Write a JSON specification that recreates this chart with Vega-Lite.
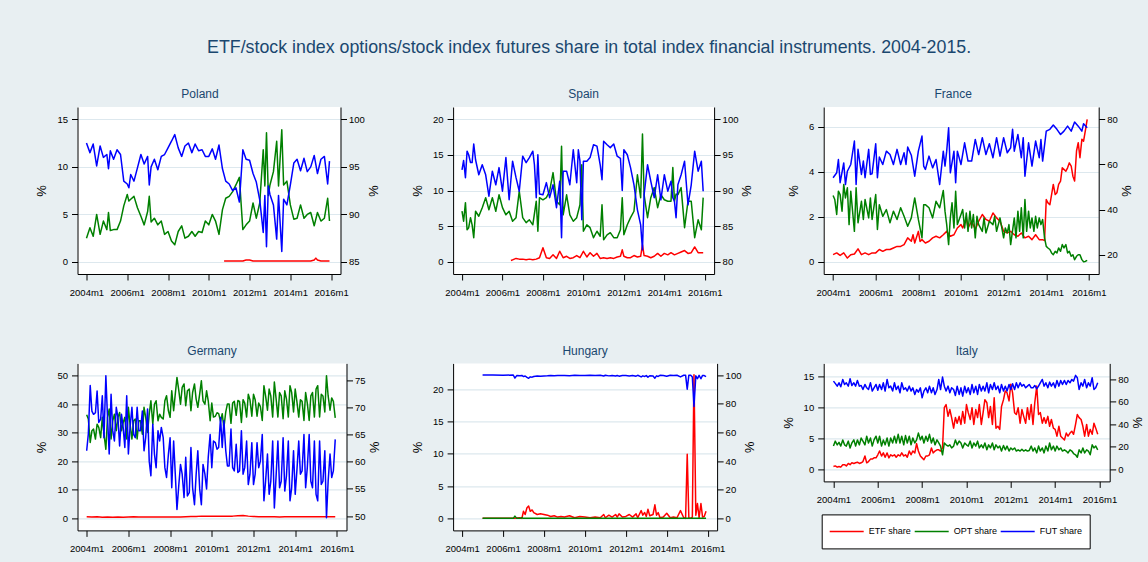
{
"$schema":"https://vega.github.io/schema/vega-lite/v6.json",
"background":"#e8eff2",
"padding":{"left":35.5,"top":38,"right":12,"bottom":10},
"bounds":"flush",
"columns":3,
"spacing":{"row":89.4,"column":106.6},
"resolve":{"scale":{"color":"independent"}},
"title":{"text":"ETF/stock index options/stock index futures share in total index financial instruments. 2004-2015.","font":"Liberation Sans","fontSize":17.8,"fontWeight":"normal","color":"#1a476f","offset":32,"anchor":"middle"},
"config":{
 "view":{"stroke":null,"fill":"white"},
 "mark":{"invalid":"filter"},
 "title":{"font":"Liberation Sans","fontSize":12,"fontWeight":"normal","color":"#1a476f","offset":5.7},
 "axis":{"labelFont":"Liberation Sans","labelFontSize":9.5,"labelColor":"#000","domainColor":"#000","tickColor":"#000","tickSize":6,"labelPadding":4,"titleFont":"Liberation Sans","titleFontSize":13,"titleFontWeight":"normal","titleColor":"#000","gridColor":"#dde8ee","gridWidth":1.2,"labelFlush":false,"labelOverlap":false,"titlePadding":8},
 "axisX":{"labelPadding":7},
 "axisRight":{"labelPadding":2,"titlePadding":1},
 "line":{"strokeWidth":1.5,"strokeJoin":"round","invalid":"filter"}
},
"datasets":{
"pl":[
{"t":2004,"o":2.5,"f":97.5},{"t":2004.17,"o":3.6,"f":96.5},{"t":2004.33,"o":2.7,"f":97.4},{"t":2004.5,"o":5.0,"f":95.1},{"t":2004.67,"o":2.9,"f":97.2},{"t":2004.83,"o":4.3,"f":96.0},
{"t":2005,"o":3.4,"f":96.3},{"t":2005.08,"o":5.2,"f":94.8},{"t":2005.17,"o":3.3,"f":96.7},{"t":2005.33,"o":3.4,"f":95.8},{"t":2005.5,"o":3.4,"f":96.8},{"t":2005.67,"o":4.3,"f":96.3},{"t":2005.83,"o":5.9,"f":93.5},
{"t":2006,"o":7.1,"f":93.2},{"t":2006.08,"o":6.4,"f":92.8},{"t":2006.17,"o":6.6,"f":94.2},{"t":2006.33,"o":6.9,"f":93.5},{"t":2006.5,"o":5.7,"f":94.9},{"t":2006.67,"o":4.8,"f":96.3},{"t":2006.83,"o":3.9,"f":95.3},
{"t":2007,"o":5.3,"f":96.1},{"t":2007.08,"o":6.9,"f":93.1},{"t":2007.17,"o":4.2,"f":95.0},{"t":2007.33,"o":4.6,"f":95.8},{"t":2007.5,"o":3.9,"f":94.7},{"t":2007.67,"o":4.3,"f":96.1},{"t":2007.83,"o":2.9,"f":96.3},
{"t":2008,"o":3.2,"f":97.0},{"t":2008.17,"o":2.2,"f":97.7},{"t":2008.33,"o":1.8,"f":98.4},{"t":2008.5,"o":3.2,"f":97.0},{"t":2008.67,"o":3.8,"f":96.1},{"t":2008.83,"o":2.5,"f":97.2},
{"t":2009,"o":2.7,"f":97.5},{"t":2009.17,"o":3.2,"f":96.5},{"t":2009.33,"o":2.7,"f":97.4},{"t":2009.5,"o":3.2,"f":96.7},{"t":2009.67,"o":3.1,"f":96.8},{"t":2009.83,"o":4.3,"f":96.1},
{"t":2010,"o":3.9,"f":96.1},{"t":2010.17,"o":5.0,"f":96.9},{"t":2010.33,"o":4.3,"f":95.8},{"t":2010.5,"o":2.9,"f":97.3},{"t":2010.67,"o":5.5,"f":94.8},{"t":2010.75,"e":0.1},{"t":2010.83,"o":6.7,"f":93.5,"e":0.1},
{"t":2011,"o":6.9,"f":93.2,"e":0.1},{"t":2011.17,"o":7.4,"f":92.5,"e":0.1},{"t":2011.33,"o":8.1,"f":92.8,"e":0.1},{"t":2011.5,"o":8.9,"f":91.3,"e":0.1},{"t":2011.67,"o":3.4,"f":96.8,"e":0.1},{"t":2011.83,"o":3.9,"f":95.8,"e":0.2},
{"t":2012,"o":4.3,"f":95.7,"e":0.2},{"t":2012.17,"o":6.2,"f":94.3,"e":0.1},{"t":2012.33,"o":4.6,"f":93.4,"e":0.1},{"t":2012.5,"o":6.2,"f":91.5,"e":0.1},{"t":2012.67,"o":11.8,"f":88.1,"e":0.1},{"t":2012.75,"o":8.0,"f":92.0},{"t":2012.83,"o":13.6,"f":86.6,"e":0.1},{"t":2012.92,"o":7.0,"f":93.0},
{"t":2013,"o":8.1,"f":92.1,"e":0.1},{"t":2013.17,"o":9.5,"f":91.0,"e":0.1},{"t":2013.33,"o":12.7,"f":87.4,"e":0.1},{"t":2013.42,"o":8.0,"f":92.0},{"t":2013.58,"o":13.9,"f":86.1,"e":0.1},{"t":2013.67,"o":8.1,"f":91.6},{"t":2013.83,"o":8.5,"f":91.0,"e":0.1},
{"t":2014,"o":6.0,"f":93.1,"e":0.1},{"t":2014.17,"o":4.5,"f":95.4,"e":0.1},{"t":2014.33,"o":4.6,"f":95.8,"e":0.1},{"t":2014.5,"o":6.0,"f":94.6,"e":0.1},{"t":2014.67,"o":4.6,"f":95.9,"e":0.1},{"t":2014.83,"o":5.0,"f":94.5,"e":0.1},
{"t":2015,"o":5.2,"f":95.0,"e":0.1},{"t":2015.17,"o":3.8,"f":96.2,"e":0.2},{"t":2015.25,"e":0.4},{"t":2015.33,"o":5.2,"f":94.3,"e":0.2},{"t":2015.5,"o":4.3,"f":95.8,"e":0.1},{"t":2015.67,"o":4.6,"f":96.1,"e":0.1},{"t":2015.83,"o":6.7,"f":93.2,"e":0.1},{"t":2015.92,"o":4.3,"f":95.6,"e":0.1}
],
"es":[
{"t":2004,"o":7.1,"f":92.9},{"t":2004.08,"o":5.7,"f":94.2},{"t":2004.17,"o":8.3,"f":91.8},{"t":2004.25,"o":4.5,"f":95.5},{"t":2004.33,"o":4.8,"f":95.0},{"t":2004.42,"o":6.2,"f":93.9},{"t":2004.5,"o":5.2,"f":93.9},{"t":2004.58,"o":3.4,"f":96.5},{"t":2004.67,"o":7.1,"f":94.3},{"t":2004.83,"o":6.4,"f":92.2},
{"t":2005,"o":7.6,"f":93.6},{"t":2005.17,"o":9.0,"f":92.2},{"t":2005.33,"o":7.3,"f":89.2},{"t":2005.5,"o":9.0,"f":92.7},{"t":2005.67,"o":7.1,"f":90.8},{"t":2005.83,"o":9.4,"f":93.2},
{"t":2006,"o":7.6,"f":89.9},{"t":2006.17,"o":6.6,"f":94.6},{"t":2006.33,"o":7.1,"f":88.7},{"t":2006.42,"e":0.2},{"t":2006.5,"o":5.7,"f":94.1,"e":0.3},{"t":2006.67,"o":6.2,"f":91.8,"e":0.5},{"t":2006.83,"o":9.9,"f":89.9,"e":0.4},
{"t":2007,"o":6.2,"f":94.8,"e":0.4},{"t":2007.17,"o":5.5,"f":93.9,"e":0.3},{"t":2007.33,"o":5.9,"f":94.6,"e":0.4},{"t":2007.5,"o":5.2,"f":95.5,"e":0.3},{"t":2007.58,"f":93.6},{"t":2007.67,"o":8.5,"f":89.0,"e":0.4},{"t":2007.75,"o":4.3,"f":95.0},{"t":2007.83,"o":9.0,"f":89.5,"e":0.6},
{"t":2008,"o":8.7,"f":89.4,"e":2.0},{"t":2008.17,"o":9.0,"f":91.1,"e":0.6},{"t":2008.33,"o":9.9,"f":89.0,"e":0.5},{"t":2008.5,"o":12.5,"f":90.8,"e":1.0},{"t":2008.67,"o":8.5,"f":87.6,"e":0.5},{"t":2008.83,"o":8.0,"f":91.3,"e":1.5},{"t":2008.92,"o":16.2,"f":83.4},
{"t":2009,"o":6.6,"f":92.7,"e":0.6},{"t":2009.17,"o":9.4,"f":92.7,"e":0.8},{"t":2009.33,"o":6.6,"f":90.8,"e":0.5},{"t":2009.5,"o":5.7,"f":95.7,"e":0.6},{"t":2009.67,"o":6.2,"f":91.1,"e":0.9},{"t":2009.75,"f":95.7},{"t":2009.83,"o":8.0,"f":94.1,"e":0.6},{"t":2009.92,"o":13.6,"f":85.9},
{"t":2010,"o":4.3,"f":94.1,"e":1.5},{"t":2010.17,"o":5.2,"f":94.1,"e":0.7},{"t":2010.33,"o":4.8,"f":94.6,"e":1.3},{"t":2010.5,"o":3.4,"f":96.4,"e":0.8},{"t":2010.67,"o":4.3,"f":96.2,"e":1.2},{"t":2010.83,"o":3.6,"f":93.6,"e":0.5},{"t":2010.92,"o":8.0,"f":91.5},
{"t":2011,"o":3.1,"f":96.9,"e":0.6},{"t":2011.17,"o":3.8,"f":96.4,"e":0.5},{"t":2011.33,"o":4.1,"f":96.0,"e":0.6},{"t":2011.5,"o":3.4,"f":96.5,"e":0.5},{"t":2011.67,"o":3.4,"f":94.8,"e":0.7},{"t":2011.83,"o":4.5,"f":94.5,"e":0.8},{"t":2011.92,"o":9.0,"f":90.0,"e":1.7},
{"t":2012,"o":3.8,"f":95.7,"e":0.8},{"t":2012.17,"o":5.2,"f":95.0,"e":0.6},{"t":2012.33,"o":6.2,"f":93.2,"e":0.6},{"t":2012.5,"o":7.1,"f":90.8,"e":0.9},{"t":2012.67,"o":12.2,"f":87.3,"e":0.7},{"t":2012.83,"o":9.0,"f":85.2,"e":0.8},{"t":2012.92,"o":17.9,"f":81.7,"e":2.4},
{"t":2013,"o":9.4,"f":89.4,"e":0.9},{"t":2013.17,"o":6.2,"f":93.6,"e":0.8},{"t":2013.33,"o":9.0,"f":91.3,"e":0.6},{"t":2013.5,"o":10.4,"f":89.0,"e":0.8},{"t":2013.67,"o":7.6,"f":92.2,"e":1.2},{"t":2013.83,"o":9.4,"f":88.7,"e":0.8},
{"t":2014,"o":8.7,"f":92.2,"e":1.2},{"t":2014.17,"o":8.5,"f":89.9,"e":1.0},{"t":2014.33,"o":8.5,"f":91.3,"e":1.3},{"t":2014.42,"o":13.2,"f":89.0},{"t":2014.5,"o":8.5,"f":88.5,"e":1.0},{"t":2014.58,"o":9.5,"f":86.2},{"t":2014.67,"o":9.4,"f":90.8,"e":1.2},{"t":2014.83,"o":10.4,"f":92.2,"e":1.4},
{"t":2015,"o":4.8,"f":94.1,"e":1.6},{"t":2015.17,"o":8.5,"f":88.0,"e":1.2},{"t":2015.33,"o":8.5,"f":90.8,"e":1.3},{"t":2015.5,"o":3.4,"f":95.5,"e":2.1},{"t":2015.67,"o":5.9,"f":92.7,"e":1.3},{"t":2015.83,"o":4.5,"f":94.1,"e":1.3},{"t":2015.92,"o":9.0,"f":89.9,"e":1.3}
],
"fr":[
{"t":2004,"e":0.31,"o":2.95,"f":54.1},{"t":2004.08,"o":2.77},{"t":2004.17,"e":0.39,"o":2.1,"f":56.3},{"t":2004.25,"o":3.14,"f":62.2},{"t":2004.33,"e":0.28,"o":2.99,"f":51.9},{"t":2004.42,"o":2.25},{"t":2004.5,"e":0.39,"o":3.44,"f":60.7},{"t":2004.58,"o":2.84,"f":51.1},{"t":2004.67,"e":0.16,"o":3.29,"f":57.0},{"t":2004.75,"o":1.65},{"t":2004.83,"e":0.31,"o":3.14,"f":60.0},
{"t":2005,"e":0.34,"o":1.35,"f":70.4},{"t":2005.08,"o":3.29,"f":51.1},{"t":2005.17,"e":0.57,"o":1.73,"f":66.7},{"t":2005.33,"e":0.31,"o":2.69,"f":55.6},{"t":2005.42,"o":1.88,"f":61.5},{"t":2005.5,"e":0.39,"o":2.77,"f":54.1},{"t":2005.67,"e":0.31,"o":1.95,"f":66.7},{"t":2005.75,"o":2.84,"f":55.6},{"t":2005.83,"e":0.39,"o":1.88,"f":55.9},
{"t":2006,"e":0.39,"o":2.99,"f":69.2},{"t":2006.08,"o":1.43,"f":54.1},{"t":2006.17,"e":0.54,"o":2.54,"f":63.3},{"t":2006.33,"e":0.46,"o":2.02,"f":60.0},{"t":2006.5,"e":0.54,"o":2.32,"f":65.9},{"t":2006.67,"e":0.54,"o":1.73,"f":64.4},{"t":2006.83,"e":0.61,"o":2.25,"f":60.0},
{"t":2007,"e":0.68,"o":1.88,"f":66.7},{"t":2007.17,"e":0.68,"o":2.4,"f":60.0},{"t":2007.33,"e":0.76,"o":2.02,"f":65.2},{"t":2007.42,"f":60.0},{"t":2007.5,"e":1.06,"o":1.58,"f":67.7},{"t":2007.67,"e":0.91,"o":1.95,"f":64.1},{"t":2007.75,"e":1.2},{"t":2007.83,"e":0.83,"o":2.84,"f":54.8},
{"t":2008,"e":1.35,"o":1.88,"f":65.9},{"t":2008.08,"e":0.9},{"t":2008.17,"e":0.98,"o":1.06,"f":72.6},{"t":2008.25,"o":2.54,"f":59.3},{"t":2008.33,"e":0.83,"o":2.54,"f":57.8},{"t":2008.5,"e":0.91,"o":2.4,"f":63.7},{"t":2008.67,"e":1.06,"o":1.95,"f":58.5},{"t":2008.83,"e":1.13,"o":2.69,"f":62.2},
{"t":2009,"e":1.06,"o":2.4,"f":51.1},{"t":2009.17,"e":1.2,"o":3.17,"f":65.9},{"t":2009.25,"o":2.25,"f":59.3},{"t":2009.33,"e":1.35,"o":1.65,"f":65.9},{"t":2009.42,"o":0.76,"f":76.3},{"t":2009.5,"e":1.13,"o":1.95,"f":56.3},{"t":2009.58,"o":2.62},{"t":2009.67,"e":1.2,"o":1.5,"f":65.9},{"t":2009.75,"o":3.14,"f":51.9},{"t":2009.83,"e":1.5,"o":1.65,"f":65.9},
{"t":2010,"e":1.65,"o":2.1,"f":60.0},{"t":2010.08,"e":1.5,"o":2.32},{"t":2010.17,"e":1.73,"o":1.5,"f":69.6},{"t":2010.25,"e":1.95,"o":2.17},{"t":2010.33,"e":1.5,"o":1.35,"f":61.5},{"t":2010.42,"o":2.25},{"t":2010.5,"e":1.8,"o":1.5,"f":61.5},{"t":2010.58,"o":2.1},{"t":2010.67,"e":1.43,"o":1.06,"f":71.1},{"t":2010.75,"o":2.02},{"t":2010.83,"e":1.8,"o":1.65,"f":64.4},
{"t":2011,"e":2.1,"o":1.35,"f":71.9},{"t":2011.08,"o":1.95},{"t":2011.17,"e":1.88,"o":1.28,"f":64.4},{"t":2011.33,"e":1.8,"o":1.8,"f":69.2},{"t":2011.5,"e":2.17,"o":1.65,"f":63.0},{"t":2011.58,"o":2.02},{"t":2011.67,"e":1.95,"o":1.35,"f":71.9},{"t":2011.83,"e":1.8,"o":1.95,"f":63.7},
{"t":2012,"e":1.35,"o":1.06,"f":71.9},{"t":2012.08,"o":1.5},{"t":2012.17,"e":1.28,"o":1.28,"f":65.2},{"t":2012.25,"o":1.65},{"t":2012.33,"e":1.35,"o":0.76,"f":67.4},{"t":2012.42,"f":75.6},{"t":2012.5,"e":1.2,"o":1.95,"f":65.9},{"t":2012.58,"o":1.06},{"t":2012.67,"e":1.13,"o":2.25,"f":73.3},{"t":2012.75,"o":1.35},{"t":2012.83,"e":1.28,"o":2.4,"f":63.0},{"t":2012.92,"o":1.06,"f":71.9},
{"t":2013,"e":1.06,"o":2.77,"f":54.8},{"t":2013.08,"o":1.35},{"t":2013.17,"e":1.13,"o":2.25,"f":69.6},{"t":2013.25,"o":1.5},{"t":2013.33,"e":0.98,"o":1.95,"f":59.3},{"t":2013.42,"o":1.35},{"t":2013.5,"e":1.2,"o":2.02,"f":70.4},{"t":2013.58,"o":1.5},{"t":2013.67,"e":0.98,"o":1.95,"f":63.0},{"t":2013.75,"o":1.65,"f":71.1},{"t":2013.83,"e":0.98,"o":1.88,"f":61.5},{"t":2013.92,"e":0.94,"o":1.06},
{"t":2014,"e":2.77,"o":0.68,"f":74.8},{"t":2014.08,"e":2.62,"o":0.61},{"t":2014.17,"e":2.54,"o":0.54,"f":75.6},{"t":2014.25,"e":2.99,"o":0.39},{"t":2014.33,"e":3.44,"o":0.31,"f":77.5},{"t":2014.42,"e":2.99,"o":0.46},{"t":2014.5,"e":3.07,"o":0.39,"f":75.6},{"t":2014.58,"e":3.44,"o":0.61},{"t":2014.67,"e":3.59,"o":0.46,"f":73.3},{"t":2014.75,"e":4.18,"o":0.76},{"t":2014.83,"e":4.11,"o":0.61,"f":74.8},{"t":2014.92,"e":4.03,"o":0.76},
{"t":2015,"e":4.18,"o":0.39,"f":77.0},{"t":2015.08,"e":4.4,"o":0.46},{"t":2015.17,"e":4.26,"o":0.24,"f":74.8},{"t":2015.25,"e":3.81,"o":0.31},{"t":2015.33,"e":3.59,"o":0.09,"f":78.8},{"t":2015.42,"e":4.93,"o":0.24},{"t":2015.5,"e":5.3,"o":0.31,"f":77.0},{"t":2015.58,"e":4.63,"o":0.31},{"t":2015.67,"e":5.45,"o":0.09,"f":74.8},{"t":2015.75,"e":5.37,"o":0.0,"f":78.1},{"t":2015.83,"e":5.82,"o":0.01},{"t":2015.92,"e":6.34,"o":0.06,"f":76.3}
],
"de":[
{"t":2004,"o":36.3,"f":62.0,"e":0.6},{"t":2004.08,"o":34.8,"f":65.1},{"t":2004.17,"o":26.6,"f":74.0},{"t":2004.25,"o":30.7,"f":69.3,"e":0.5},{"t":2004.33,"o":31.3,"f":68.7},{"t":2004.42,"o":27.8,"f":69.0},{"t":2004.5,"o":33.0,"f":73.0,"e":0.6},{"t":2004.58,"o":31.9,"f":67.2},{"t":2004.67,"o":28.3,"f":67.8},{"t":2004.75,"o":35.4,"f":72.1,"e":0.4},{"t":2004.83,"o":29.5,"f":64.4},{"t":2004.92,"o":24.2,"f":75.8},
{"t":2005,"o":35.4,"f":68.1,"e":0.5},{"t":2005.08,"o":38.3,"f":61.4},{"t":2005.17,"o":27.8,"f":72.4},{"t":2005.25,"o":34.2,"f":65.7,"e":0.4},{"t":2005.33,"o":36.5,"f":63.8},{"t":2005.42,"o":30.7,"f":70.0},{"t":2005.5,"o":35.4,"f":68.1,"e":0.5},{"t":2005.58,"o":37.1,"f":62.9},{"t":2005.67,"o":30.7,"f":68.7},{"t":2005.75,"o":33.6,"f":66.3,"e":0.4},{"t":2005.83,"o":35.4,"f":62.6},{"t":2005.92,"o":27.8,"f":72.1},
{"t":2006,"o":38.9,"f":61.4,"e":0.5},{"t":2006.08,"o":33.0,"f":66.3},{"t":2006.17,"o":27.8,"f":70.0},{"t":2006.25,"o":34.2,"f":65.0,"e":0.6},{"t":2006.33,"o":34.8,"f":64.4},{"t":2006.42,"o":27.8,"f":70.0},{"t":2006.5,"o":34.2,"f":65.7,"e":0.5},{"t":2006.58,"o":34.2,"f":65.7},{"t":2006.67,"o":29.5,"f":69.3},{"t":2006.75,"o":38.9,"f":62.0,"e":0.5},{"t":2006.83,"o":35.4,"f":64.4},{"t":2006.92,"o":30.1,"f":69.7},
{"t":2007,"o":36.5,"f":60.1,"e":0.5},{"t":2007.08,"o":41.2,"f":57.4},{"t":2007.17,"o":33.0,"f":66.9},{"t":2007.25,"o":40.0,"f":61.4,"e":0.5},{"t":2007.33,"o":41.2,"f":58.9},{"t":2007.42,"o":34.2,"f":65.7},{"t":2007.5,"o":36.5,"f":63.8,"e":0.5},{"t":2007.58,"o":35.4,"f":66.3},{"t":2007.67,"o":34.8,"f":64.4},{"t":2007.75,"o":41.2,"f":58.9,"e":0.5},{"t":2007.83,"o":43.0,"f":57.1},{"t":2007.92,"o":37.7,"f":61.4},
{"t":2008,"o":35.4,"f":64.4,"e":0.5},{"t":2008.08,"o":44.7,"f":55.2},{"t":2008.17,"o":37.7,"f":63.8},{"t":2008.25,"o":43.6,"f":57.7,"e":0.5},{"t":2008.33,"o":49.4,"f":51.2},{"t":2008.42,"o":44.7,"f":55.8},{"t":2008.5,"o":40.0,"f":59.5,"e":0.5},{"t":2008.58,"o":45.9,"f":57.7},{"t":2008.67,"o":47.1,"f":53.4},{"t":2008.75,"o":39.5,"f":60.8,"e":0.6},{"t":2008.83,"o":44.7,"f":53.7},{"t":2008.92,"o":45.3,"f":54.3},
{"t":2009,"o":37.7,"f":62.6,"e":0.7},{"t":2009.08,"o":44.1,"f":55.2},{"t":2009.17,"o":47.1,"f":52.1},{"t":2009.25,"o":41.8,"f":57.7,"e":0.7},{"t":2009.33,"o":38.9,"f":62.0},{"t":2009.42,"o":43.6,"f":55.0},{"t":2009.5,"o":48.2,"f":52.1,"e":0.8},{"t":2009.58,"o":41.2,"f":59.5},{"t":2009.67,"o":40.0,"f":57.7},{"t":2009.75,"o":44.7,"f":55.0,"e":0.8},{"t":2009.83,"o":41.2,"f":60.8},{"t":2009.92,"o":34.2,"f":65.0},
{"t":2010,"o":40.4,"f":58.9,"e":0.8},{"t":2010.08,"o":35.5,"f":63.8},{"t":2010.17,"o":35.8,"f":63.5},{"t":2010.25,"o":37.0,"f":62.3,"e":0.8},{"t":2010.33,"o":36.7,"f":62.6},{"t":2010.42,"o":34.0,"f":68.1},{"t":2010.5,"o":36.7,"f":62.6,"e":0.8},{"t":2010.58,"o":31.8,"f":67.5},{"t":2010.67,"o":37.3,"f":62.0},{"t":2010.75,"o":40.1,"f":59.2,"e":0.8},{"t":2010.83,"o":40.1,"f":59.2},{"t":2010.92,"o":33.3,"f":66.0},
{"t":2011,"o":40.4,"f":58.9,"e":0.8},{"t":2011.08,"o":41.0,"f":58.3},{"t":2011.17,"o":36.1,"f":63.2},{"t":2011.25,"o":41.3,"f":58.0,"e":0.9},{"t":2011.33,"o":41.0,"f":58.3},{"t":2011.42,"o":33.6,"f":65.7},{"t":2011.5,"o":41.6,"f":57.7,"e":1.0},{"t":2011.58,"o":40.4,"f":58.9},{"t":2011.67,"o":35.5,"f":63.8},{"t":2011.75,"o":43.5,"f":55.8,"e":0.8},{"t":2011.83,"o":41.6,"f":57.7},{"t":2011.92,"o":35.8,"f":63.5},
{"t":2012,"o":43.5,"f":55.8,"e":0.7},{"t":2012.08,"o":41.6,"f":57.7},{"t":2012.17,"o":35.8,"f":63.5},{"t":2012.25,"o":40.4,"f":58.9,"e":0.6},{"t":2012.33,"o":39.2,"f":60.1},{"t":2012.42,"o":34.3,"f":65.0},{"t":2012.5,"o":46.5,"f":52.8,"e":0.6},{"t":2012.58,"o":42.9,"f":56.4},{"t":2012.67,"o":37.9,"f":61.4},{"t":2012.75,"o":45.3,"f":54.0,"e":0.6},{"t":2012.83,"o":42.9,"f":56.4},{"t":2012.92,"o":35.5,"f":63.8},
{"t":2013,"o":47.8,"f":51.5,"e":0.6},{"t":2013.08,"o":42.2,"f":57.1},{"t":2013.17,"o":35.5,"f":63.8},{"t":2013.25,"o":44.1,"f":55.2,"e":0.5},{"t":2013.33,"o":42.9,"f":56.4},{"t":2013.42,"o":34.9,"f":64.4},{"t":2013.5,"o":44.7,"f":54.6,"e":0.6},{"t":2013.58,"o":41.9,"f":57.4},{"t":2013.67,"o":35.5,"f":63.8},{"t":2013.75,"o":46.5,"f":52.8,"e":0.6},{"t":2013.83,"o":44.1,"f":55.2},{"t":2013.92,"o":37.3,"f":62.0},
{"t":2014,"o":45.3,"f":54.0,"e":0.6},{"t":2014.08,"o":41.0,"f":58.3},{"t":2014.17,"o":35.5,"f":63.8},{"t":2014.25,"o":41.6,"f":57.7,"e":0.6},{"t":2014.33,"o":41.0,"f":58.3},{"t":2014.42,"o":34.3,"f":65.0},{"t":2014.5,"o":44.1,"f":55.2,"e":0.6},{"t":2014.58,"o":40.4,"f":58.9},{"t":2014.67,"o":34.3,"f":65.0},{"t":2014.75,"o":42.9,"f":56.4,"e":0.6},{"t":2014.83,"o":44.1,"f":55.2},{"t":2014.92,"o":35.5,"f":63.8},
{"t":2015,"o":45.3,"f":54.0,"e":0.6},{"t":2015.08,"o":46.5,"f":52.8},{"t":2015.17,"o":35.5,"f":63.8},{"t":2015.25,"o":43.5,"f":55.8,"e":0.6},{"t":2015.33,"o":42.9,"f":56.4},{"t":2015.42,"o":37.3,"f":62.0},{"t":2015.5,"o":50.0,"f":49.7,"e":0.6},{"t":2015.58,"o":42.9,"f":56.4},{"t":2015.67,"o":37.9,"f":61.4},{"t":2015.75,"o":42.2,"f":57.1,"e":0.6},{"t":2015.83,"o":41.0,"f":58.3},{"t":2015.92,"o":35.2,"f":64.1,"e":0.6}
],
"hu":[
{"t":2005,"e":0,"o":0,"f":100},{"t":2005.5,"e":0,"o":0,"f":100},{"t":2006,"e":0,"o":0,"f":99.8},{"t":2006.5,"e":0,"o":0,"f":100},{"t":2006.58,"e":0,"o":0.35,"f":97.9},{"t":2006.67,"e":0.05,"o":0,"f":99.6},{"t":2006.83,"e":0.1,"o":0,"f":99.5},{"t":2006.92,"e":0,"o":0.1,"f":99.7},
{"t":2007,"e":1.1,"o":0,"f":98.9},{"t":2007.08,"e":0.6,"o":0,"f":99.3},{"t":2007.17,"e":1.65,"o":0,"f":98.3},{"t":2007.25,"e":1.9,"o":0,"f":97.7},{"t":2007.33,"e":1.1,"o":0,"f":98.7},{"t":2007.42,"e":1.3,"o":0,"f":98.5},{"t":2007.5,"e":0.9,"o":0,"f":99.0},{"t":2007.67,"e":0.6,"o":0,"f":99.3},{"t":2007.83,"e":0.7,"o":0,"f":99.2},
{"t":2008,"e":0.6,"o":0,"f":99.3},{"t":2008.17,"e":0.5,"o":0,"f":99.4},{"t":2008.33,"e":0.3,"o":0,"f":99.6},{"t":2008.5,"e":0.4,"o":0,"f":99.5},{"t":2008.67,"e":0.2,"o":0,"f":99.7},{"t":2008.83,"e":0.3,"o":0,"f":99.6},
{"t":2009,"e":0.2,"o":0,"f":99.7},{"t":2009.25,"e":0.4,"o":0,"f":99.5},{"t":2009.5,"e":0.1,"o":0,"f":99.8},{"t":2009.75,"e":0.3,"o":0,"f":99.6},
{"t":2010,"e":0.2,"o":0,"f":99.7},{"t":2010.25,"e":0.1,"o":0,"f":99.8},{"t":2010.5,"e":0.2,"o":0,"f":99.7},{"t":2010.75,"e":0.1,"o":0,"f":99.8},{"t":2010.92,"e":0.6,"o":0,"f":99.3},
{"t":2011,"e":0.1,"o":0,"f":99.8},{"t":2011.17,"e":0.5,"o":0,"f":99.4},{"t":2011.33,"e":0.2,"o":0,"f":99.7},{"t":2011.5,"e":0.6,"o":0,"f":99.3},{"t":2011.58,"e":0.2,"o":0,"f":99.7},{"t":2011.67,"e":0.7,"o":0,"f":99.2},{"t":2011.83,"e":0.2,"o":0,"f":99.7},
{"t":2012,"e":0.3,"o":0,"f":99.6},{"t":2012.17,"e":0.6,"o":0,"f":99.3},{"t":2012.33,"e":0.2,"o":0,"f":99.7},{"t":2012.5,"e":0.7,"o":0,"f":99.2},{"t":2012.58,"e":0.1,"o":0,"f":99.8},{"t":2012.75,"e":1.2,"o":0,"f":98.7},{"t":2012.83,"e":0.5,"o":0,"f":99.4},{"t":2012.92,"e":0.9,"o":0,"f":99.0},
{"t":2013,"e":0.3,"o":0,"f":99.6},{"t":2013.08,"e":1.4,"o":0,"f":98.5},{"t":2013.17,"e":0.4,"o":0,"f":99.5},{"t":2013.33,"e":0.6,"o":0,"f":99.3},{"t":2013.42,"e":2.1,"o":0,"f":97.8},{"t":2013.5,"e":0.5,"o":0,"f":99.4},{"t":2013.58,"e":0.9,"o":0,"f":99.0},{"t":2013.67,"e":0.1,"o":0,"f":99.8},{"t":2013.83,"e":0.2,"o":0,"f":99.7},
{"t":2014,"e":0.8,"o":0,"f":99.1},{"t":2014.17,"e":0.1,"o":0,"f":99.8},{"t":2014.33,"e":0.2,"o":0,"f":99.7},{"t":2014.5,"e":0.1,"o":0,"f":99.8},{"t":2014.67,"e":1.2,"o":0,"f":98.7},{"t":2014.83,"e":0.1,"o":0,"f":99.8},{"t":2014.92,"e":0,"o":0,"f":99.9},
{"t":2015,"e":9.9,"o":0,"f":90.1},{"t":2015.08,"e":0,"o":0,"f":99.9},{"t":2015.17,"e":0,"o":0,"f":99.8},{"t":2015.25,"e":0.2,"o":0,"f":98.6},{"t":2015.33,"e":22.2,"o":0,"f":78.0},{"t":2015.42,"e":0.5,"o":0,"f":99.4},{"t":2015.5,"e":2.3,"o":0,"f":97.5},{"t":2015.58,"e":0.1,"o":0,"f":99.8},{"t":2015.67,"e":2.3,"o":0,"f":97.4},{"t":2015.75,"e":0.2,"o":0,"f":99.7},{"t":2015.83,"e":0.3,"o":0,"f":99.6},{"t":2015.92,"e":1.1,"o":0,"f":98.8}
],
"it":[
{"t":2004,"e":0.4,"o":3.7,"f":78.5},{"t":2004.08,"e":0.5,"o":4.5,"f":76.5},{"t":2004.17,"e":0.3,"o":3.9,"f":74.0},{"t":2004.25,"e":0.4,"o":4.3,"f":77.0},{"t":2004.33,"e":0.3,"o":3.7,"f":73.4},{"t":2004.42,"e":0.7,"o":4.7,"f":80.0},{"t":2004.5,"e":0.7,"o":3.9,"f":75.5},{"t":2004.58,"e":0.5,"o":3.7,"f":77.0},{"t":2004.67,"e":0.9,"o":4.5,"f":74.0},{"t":2004.75,"e":0.7,"o":3.4,"f":80.6},{"t":2004.83,"e":1.0,"o":4.2,"f":74.6},{"t":2004.92,"e":0.9,"o":4.7,"f":77.0},
{"t":2005,"e":1.0,"o":3.7,"f":74.0},{"t":2005.08,"e":1.1,"o":4.7,"f":79.1},{"t":2005.17,"e":0.9,"o":3.9,"f":74.0},{"t":2005.25,"e":1.0,"o":5.0,"f":74.6},{"t":2005.33,"e":1.2,"o":4.5,"f":71.0},{"t":2005.42,"e":2.1,"o":3.9,"f":75.5},{"t":2005.5,"e":1.0,"o":5.3,"f":72.5},{"t":2005.58,"e":1.2,"o":4.2,"f":71.0},{"t":2005.67,"e":1.6,"o":5.0,"f":77.0},{"t":2005.75,"e":1.6,"o":3.7,"f":69.6},{"t":2005.83,"e":1.8,"o":4.7,"f":72.5},{"t":2005.92,"e":1.8,"o":5.3,"f":75.5},
{"t":2006,"e":2.3,"o":4.2,"f":70.4},{"t":2006.08,"e":2.9,"o":5.3,"f":75.5},{"t":2006.17,"e":2.1,"o":3.7,"f":71.0},{"t":2006.25,"e":2.6,"o":4.7,"f":77.0},{"t":2006.33,"e":1.9,"o":3.9,"f":69.6},{"t":2006.42,"e":2.6,"o":5.0,"f":80.0},{"t":2006.5,"e":1.8,"o":3.7,"f":72.5},{"t":2006.58,"e":2.3,"o":5.0,"f":74.0},{"t":2006.67,"e":2.1,"o":4.2,"f":69.6},{"t":2006.75,"e":2.3,"o":5.3,"f":77.0},{"t":2006.83,"e":1.9,"o":4.2,"f":71.0},{"t":2006.92,"e":2.3,"o":5.6,"f":74.0},
{"t":2007,"e":2.1,"o":4.2,"f":68.1},{"t":2007.08,"e":2.6,"o":5.3,"f":77.0},{"t":2007.17,"e":2.1,"o":3.9,"f":71.0},{"t":2007.25,"e":2.3,"o":5.4,"f":72.5},{"t":2007.33,"e":1.9,"o":4.2,"f":69.6},{"t":2007.42,"e":2.9,"o":5.3,"f":74.0},{"t":2007.5,"e":2.3,"o":3.9,"f":69.6},{"t":2007.58,"e":2.9,"o":5.0,"f":72.5},{"t":2007.67,"e":2.6,"o":4.2,"f":66.6},{"t":2007.75,"e":4.1,"o":4.7,"f":71.0},{"t":2007.83,"e":2.9,"o":5.8,"f":68.7},{"t":2007.92,"e":2.1,"o":4.7,"f":72.5},
{"t":2008,"e":1.8,"o":5.3,"f":63.6},{"t":2008.08,"e":1.5,"o":4.2,"f":69.6},{"t":2008.17,"e":2.1,"o":5.3,"f":72.5},{"t":2008.25,"e":2.1,"o":4.5,"f":68.1},{"t":2008.33,"e":2.3,"o":5.6,"f":74.0},{"t":2008.42,"e":3.4,"o":4.2,"f":68.1},{"t":2008.5,"e":2.6,"o":5.0,"f":72.5},{"t":2008.58,"e":2.9,"o":3.9,"f":66.6},{"t":2008.67,"e":3.1,"o":4.7,"f":71.0},{"t":2008.75,"e":3.1,"o":4.2,"f":80.0},{"t":2008.83,"e":2.9,"o":3.7,"f":71.0},{"t":2008.92,"e":3.4,"o":2.3,"f":82.1},
{"t":2009,"e":9.9,"o":4.2,"f":74.0},{"t":2009.08,"e":10.4,"o":3.9,"f":69.6},{"t":2009.17,"e":8.5,"o":3.7,"f":74.0},{"t":2009.25,"e":9.6,"o":3.9,"f":68.1},{"t":2009.33,"e":8.3,"o":3.4,"f":72.5},{"t":2009.42,"e":6.6,"o":3.7,"f":71.0},{"t":2009.5,"e":8.3,"o":4.7,"f":65.7},{"t":2009.58,"e":7.4,"o":3.9,"f":74.0},{"t":2009.67,"e":8.5,"o":4.5,"f":66.6},{"t":2009.75,"e":7.2,"o":4.2,"f":72.5},{"t":2009.83,"e":9.3,"o":3.4,"f":65.1},{"t":2009.92,"e":7.4,"o":4.2,"f":74.0},
{"t":2010,"e":10.4,"o":3.9,"f":68.1},{"t":2010.08,"e":9.1,"o":3.7,"f":72.5},{"t":2010.17,"e":8.0,"o":4.5,"f":66.6},{"t":2010.25,"e":9.9,"o":3.4,"f":75.5},{"t":2010.33,"e":7.2,"o":4.2,"f":68.1},{"t":2010.42,"e":9.6,"o":3.7,"f":74.0},{"t":2010.5,"e":8.3,"o":4.5,"f":66.6},{"t":2010.58,"e":10.4,"o":3.4,"f":75.5},{"t":2010.67,"e":7.2,"o":3.9,"f":69.6},{"t":2010.75,"e":9.1,"o":3.4,"f":74.0},{"t":2010.83,"e":11.2,"o":4.2,"f":69.6},{"t":2010.92,"e":10.7,"o":3.1,"f":77.0},
{"t":2011,"e":8.3,"o":3.9,"f":68.1},{"t":2011.08,"e":10.1,"o":3.4,"f":75.5},{"t":2011.17,"e":7.2,"o":4.2,"f":71.0},{"t":2011.25,"e":11.5,"o":3.1,"f":77.0},{"t":2011.33,"e":6.6,"o":3.9,"f":71.0},{"t":2011.42,"e":6.9,"o":3.4,"f":74.0},{"t":2011.5,"e":6.4,"o":3.7,"f":68.1},{"t":2011.58,"e":10.1,"o":2.9,"f":75.5},{"t":2011.67,"e":11.2,"o":3.8,"f":69.6},{"t":2011.75,"e":12.6,"o":3.1,"f":74.0},{"t":2011.83,"e":12.3,"o":3.7,"f":69.6},{"t":2011.92,"e":11.0,"o":2.9,"f":75.5},
{"t":2012,"e":13.7,"o":3.4,"f":71.0},{"t":2012.08,"e":12.3,"o":3.1,"f":76.1},{"t":2012.17,"e":9.1,"o":3.4,"f":71.0},{"t":2012.25,"e":8.8,"o":2.9,"f":77.0},{"t":2012.33,"e":9.9,"o":3.1,"f":72.5},{"t":2012.42,"e":7.4,"o":2.9,"f":77.0},{"t":2012.5,"e":9.6,"o":3.2,"f":74.0},{"t":2012.58,"e":8.5,"o":2.9,"f":75.5},{"t":2012.67,"e":7.4,"o":3.1,"f":72.5},{"t":2012.75,"e":9.9,"o":2.9,"f":74.0},{"t":2012.83,"e":8.0,"o":3.0,"f":75.5},{"t":2012.92,"e":10.4,"o":3.7,"f":72.5},
{"t":2013,"e":7.2,"o":2.9,"f":72.5},{"t":2013.08,"e":10.7,"o":3.4,"f":74.6},{"t":2013.17,"e":13.4,"o":2.6,"f":71.6},{"t":2013.25,"e":8.8,"o":3.7,"f":74.0},{"t":2013.33,"e":9.1,"o":2.9,"f":77.0},{"t":2013.42,"e":7.4,"o":3.4,"f":80.0},{"t":2013.5,"e":8.3,"o":2.6,"f":74.0},{"t":2013.58,"e":7.4,"o":3.7,"f":77.0},{"t":2013.67,"e":8.5,"o":2.9,"f":72.5},{"t":2013.75,"e":6.9,"o":4.2,"f":77.6},{"t":2013.83,"e":8.0,"o":3.1,"f":74.0},{"t":2013.92,"e":6.6,"o":3.7,"f":77.0},
{"t":2014,"e":6.4,"o":2.9,"f":72.5},{"t":2014.08,"e":5.3,"o":3.7,"f":79.1},{"t":2014.17,"e":6.9,"o":3.1,"f":74.0},{"t":2014.25,"e":5.3,"o":3.4,"f":79.1},{"t":2014.33,"e":5.0,"o":2.9,"f":75.5},{"t":2014.42,"e":4.7,"o":3.1,"f":79.1},{"t":2014.5,"e":5.8,"o":2.9,"f":75.5},{"t":2014.58,"e":5.3,"o":2.6,"f":79.1},{"t":2014.67,"e":5.8,"o":3.1,"f":77.0},{"t":2014.75,"e":6.1,"o":2.9,"f":80.0},{"t":2014.83,"e":5.6,"o":2.5,"f":78.5},{"t":2014.92,"e":7.2,"o":2.3,"f":83.6},
{"t":2015,"e":8.8,"o":1.9,"f":81.5},{"t":2015.08,"e":8.3,"o":3.1,"f":71.0},{"t":2015.17,"e":8.0,"o":2.6,"f":77.0},{"t":2015.25,"e":6.9,"o":3.4,"f":74.0},{"t":2015.33,"e":5.3,"o":2.6,"f":80.0},{"t":2015.42,"e":7.2,"o":3.1,"f":72.5},{"t":2015.5,"e":5.3,"o":2.9,"f":77.0},{"t":2015.58,"e":6.4,"o":2.3,"f":74.0},{"t":2015.67,"e":5.6,"o":3.9,"f":81.5},{"t":2015.75,"e":7.4,"o":3.4,"f":71.0},{"t":2015.83,"e":6.6,"o":3.7,"f":72.5},{"t":2015.92,"e":5.6,"o":3.1,"f":77.0}
]
},
"concat":[
{"width":263,"height":167,"title":{"text":"Poland","dx":-9},"data":{"name":"pl"},
 "encoding":{"x":{"field":"t","type":"quantitative","scale":{"domain":[2003.56,2016.46],"nice":false,"zero":false},"axis":{"values":[2004,2006,2008,2010,2012,2014,2016],"labelExpr":"datum.value+'m1'","title":null,"grid":false}}},
 "layer":[
  {"layer":[
   {"mark":{"type":"line","color":"#ff0000"},"encoding":{"y":{"field":"e","type":"quantitative","scale":{"domain":[-1.27,16.3],"nice":false,"zero":false},"axis":{"values":[0,5,10,15],"title":"%","grid":true}}}},
   {"mark":{"type":"line","color":"#008000"},"encoding":{"y":{"field":"o","type":"quantitative","axis":{"values":[0,5,10,15],"title":"%","grid":true}}}}
  ]},
  {"mark":{"type":"line","color":"#0000ff"},"encoding":{"y":{"field":"f","type":"quantitative","scale":{"domain":[83.73,101.3],"nice":false,"zero":false},"axis":{"orient":"right","values":[85,90,95,100],"title":"%","grid":false}}}}
 ],
 "resolve":{"scale":{"y":"independent"}}},
{"width":261,"height":167,"title":{"text":"Spain"},"data":{"name":"es"},
 "encoding":{"x":{"field":"t","type":"quantitative","scale":{"domain":[2003.56,2016.46],"nice":false,"zero":false},"axis":{"values":[2004,2006,2008,2010,2012,2014,2016],"labelExpr":"datum.value+'m1'","title":null,"grid":false}}},
 "layer":[
  {"layer":[
   {"mark":{"type":"line","color":"#ff0000"},"encoding":{"y":{"field":"e","type":"quantitative","scale":{"domain":[-1.68,21.68],"nice":false,"zero":false},"axis":{"values":[0,5,10,15,20],"title":"%","grid":true}}}},
   {"mark":{"type":"line","color":"#008000"},"encoding":{"y":{"field":"o","type":"quantitative","axis":{"values":[0,5,10,15,20],"title":"%","grid":true}}}}
  ]},
  {"mark":{"type":"line","color":"#0000ff"},"encoding":{"y":{"field":"f","type":"quantitative","scale":{"domain":[78.32,101.68],"nice":false,"zero":false},"axis":{"orient":"right","values":[80,85,90,95,100],"title":"%","grid":false}}}}
 ],
 "resolve":{"scale":{"y":"independent"}}},
{"width":275,"height":167,"title":{"text":"France","dx":-8},"data":{"name":"fr"},
 "encoding":{"x":{"field":"t","type":"quantitative","scale":{"domain":[2003.56,2016.46],"nice":false,"zero":false},"axis":{"values":[2004,2006,2008,2010,2012,2014,2016],"labelExpr":"datum.value+'m1'","title":null,"grid":false}}},
 "layer":[
  {"layer":[
   {"mark":{"type":"line","color":"#ff0000"},"encoding":{"y":{"field":"e","type":"quantitative","scale":{"domain":[-0.55,6.89],"nice":false,"zero":false},"axis":{"values":[0,2,4,6],"title":"%","grid":true}}}},
   {"mark":{"type":"line","color":"#008000"},"encoding":{"y":{"field":"o","type":"quantitative","axis":{"values":[0,2,4,6],"title":"%","grid":true}}}}
  ]},
  {"mark":{"type":"line","color":"#0000ff"},"encoding":{"y":{"field":"f","type":"quantitative","scale":{"domain":[11.4,85.5],"nice":false,"zero":false},"axis":{"orient":"right","values":[20,40,60,80],"title":"%","grid":false}}}}
 ],
 "resolve":{"scale":{"y":"independent"}}},
{"width":269,"height":167,"title":{"text":"Germany"},"data":{"name":"de"},
 "encoding":{"x":{"field":"t","type":"quantitative","scale":{"domain":[2003.56,2016.46],"nice":false,"zero":false},"axis":{"values":[2004,2006,2008,2010,2012,2014,2016],"labelExpr":"datum.value+'m1'","title":null,"grid":false}}},
 "layer":[
  {"layer":[
   {"mark":{"type":"line","color":"#ff0000"},"encoding":{"y":{"field":"e","type":"quantitative","scale":{"domain":[-4.2,54.3],"nice":false,"zero":false},"axis":{"values":[0,10,20,30,40,50],"title":"%","grid":true}}}},
   {"mark":{"type":"line","color":"#008000"},"encoding":{"y":{"field":"o","type":"quantitative","axis":{"values":[0,10,20,30,40,50],"title":"%","grid":true}}}}
  ]},
  {"mark":{"type":"line","color":"#0000ff"},"encoding":{"y":{"field":"f","type":"quantitative","scale":{"domain":[47.37,78.06],"nice":false,"zero":false},"axis":{"orient":"right","values":[50,55,60,65,70,75],"title":"%","grid":false}}}}
 ],
 "resolve":{"scale":{"y":"independent"}}},
{"width":264,"height":167,"title":{"text":"Hungary"},"data":{"name":"hu"},
 "encoding":{"x":{"field":"t","type":"quantitative","scale":{"domain":[2003.56,2016.46],"nice":false,"zero":false},"axis":{"values":[2004,2006,2008,2010,2012,2014,2016],"labelExpr":"datum.value+'m1'","title":null,"grid":false}}},
 "layer":[
  {"layer":[
   {"mark":{"type":"line","color":"#ff0000"},"encoding":{"y":{"field":"e","type":"quantitative","scale":{"domain":[-1.86,23.97],"nice":false,"zero":false},"axis":{"values":[0,5,10,15,20],"title":"%","grid":true}}}},
   {"mark":{"type":"line","color":"#008000"},"encoding":{"y":{"field":"o","type":"quantitative","axis":{"values":[0,5,10,15,20],"title":"%","grid":true}}}}
  ]},
  {"mark":{"type":"line","color":"#0000ff"},"encoding":{"y":{"field":"f","type":"quantitative","scale":{"domain":[-8.4,108.1],"nice":false,"zero":false},"axis":{"orient":"right","values":[0,20,40,60,80,100],"title":"%","grid":false}}}}
 ],
 "resolve":{"scale":{"y":"independent"}}},
{"width":286,"height":118,"title":{"text":"Italy"},"data":{"name":"it"},
 "encoding":{"x":{"field":"t","type":"quantitative","scale":{"domain":[2003.56,2016.46],"nice":false,"zero":false},"axis":{"values":[2004,2006,2008,2010,2012,2014,2016],"labelExpr":"datum.value+'m1'","title":null,"grid":false}}},
 "layer":[
  {"layer":[
   {"mark":{"type":"line"},"encoding":{"y":{"field":"e","type":"quantitative","scale":{"domain":[-2.0,17.05],"nice":false,"zero":false},"axis":{"values":[0,5,10,15],"title":"%","grid":true}},
     "color":{"datum":"ETF share","type":"nominal","scale":{"domain":["ETF share","OPT share","FUT share"],"range":["#ff0000","#008000","#0000ff"]},"legend":{"orient":"none","legendX":-2,"legendY":151,"direction":"horizontal","title":null,"symbolType":"stroke","symbolSize":1156,"symbolStrokeWidth":2,"labelFont":"Liberation Sans","labelFontSize":9,"labelColor":"#000","strokeColor":"#000","fillColor":"#fff","padding":7,"columnPadding":2,"labelOffset":4,"clipHeight":20}}}},
   {"mark":{"type":"line"},"encoding":{"y":{"field":"o","type":"quantitative","axis":{"values":[0,5,10,15],"title":"%","grid":true}},"color":{"datum":"OPT share","type":"nominal"}}}
  ]},
  {"mark":{"type":"line"},"encoding":{"y":{"field":"f","type":"quantitative","scale":{"domain":[-11,94.3],"nice":false,"zero":false},"axis":{"orient":"right","values":[0,20,40,60,80],"title":"%","grid":false}},"color":{"datum":"FUT share","type":"nominal"}}}
 ],
 "resolve":{"scale":{"y":"independent"}}}
]
}
